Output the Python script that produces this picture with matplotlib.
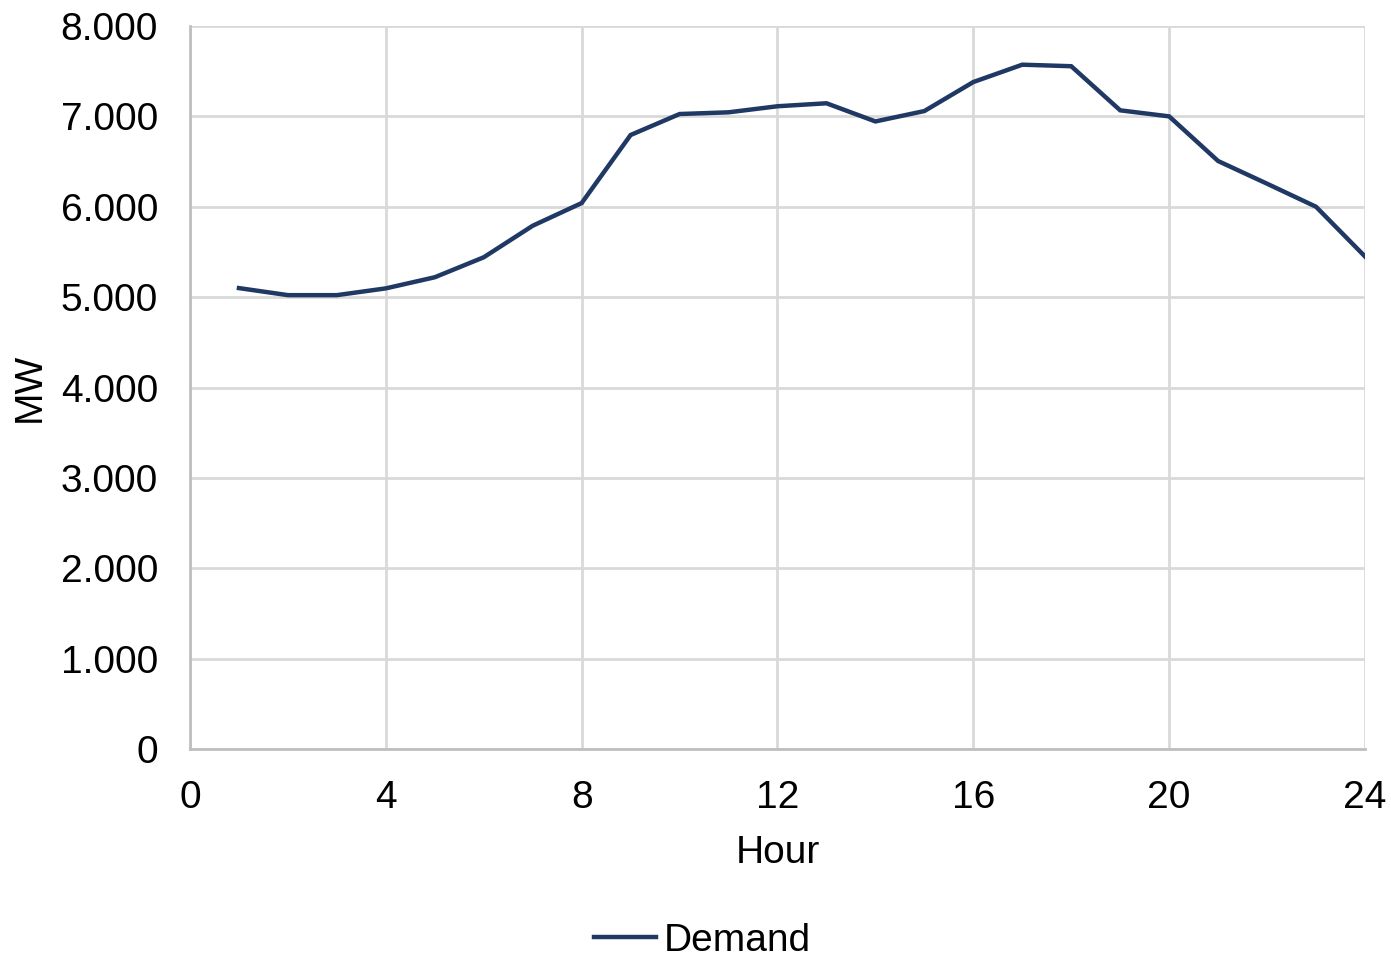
import matplotlib.pyplot as plt
from matplotlib.ticker import FuncFormatter, MultipleLocator
from matplotlib.lines import Line2D

plt.rcParams['font.family'] = ['Liberation Sans', 'DejaVu Sans']

hours = list(range(1, 25))
demand = [5100, 5022, 5022, 5097, 5220, 5441, 5790, 6041,
          6794, 7026, 7045, 7112, 7145, 6944, 7059, 7380,
          7572, 7555, 7067, 7000, 6506, 6255, 6000, 5450]

x_ticks = [0, 4, 8, 12, 16, 20, 24]
line_color = '#203864'
grid_color = '#d9d9d9'

fig = plt.figure(figsize=(13.91, 9.56), dpi=100)
ax = fig.add_axes([0.1366, 0.2165, 0.8447, 0.7563])

ax.plot(hours, demand, color=line_color, linewidth=3.2, solid_joinstyle='miter')

ax.set_xlim(0, 24)
ax.set_ylim(0, 8000)
ax.set_xticks(x_ticks)
ax.yaxis.set_major_locator(MultipleLocator(1000))
ax.yaxis.set_major_formatter(FuncFormatter(lambda v, p: f"{int(v):,}".replace(',', '.')))

ax.grid(True, color=grid_color, linewidth=2)
ax.set_axisbelow(True)
for s in ['top', 'right']:
    ax.spines[s].set_visible(False)
for s in ['left', 'bottom']:
    ax.spines[s].set_color('#bfbfbf')
    ax.spines[s].set_linewidth(2)

ax.tick_params(length=0, labelsize=28, colors='#000000')
ax.tick_params(axis='x', pad=22)
ax.tick_params(axis='y', pad=23)
ax.set_xlabel('Hour', fontsize=28, labelpad=14)
ax.set_ylabel('MW', fontsize=28, labelpad=9)

handle = Line2D([], [], color=line_color, linewidth=3.2)
fig.legend([handle], ['Demand'], loc='center', bbox_to_anchor=(0.505, 0.016),
           frameon=False, fontsize=28, handlelength=1.6, handletextpad=0.2)

fig.savefig('out.png', dpi=100)
